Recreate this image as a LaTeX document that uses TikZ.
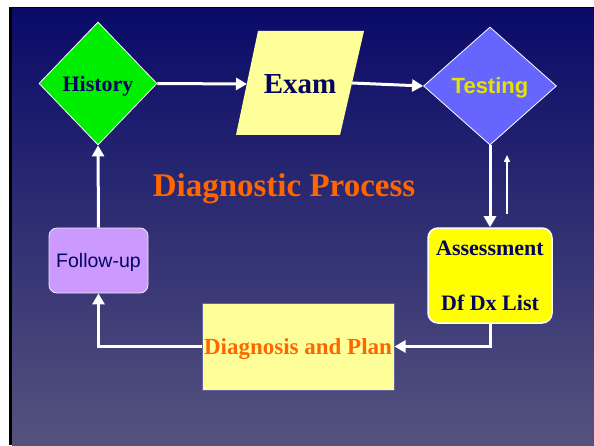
\documentclass[tikz,border=0pt]{standalone}
\usepackage{fontspec}
\setmainfont{Liberation Serif}
\setsansfont{Liberation Sans}
\usetikzlibrary{shapes.geometric,arrows.meta}
\definecolor{bgtop}{RGB}{10,10,105}
\definecolor{bgbot}{RGB}{85,83,125}
\definecolor{navytext}{RGB}{5,5,95}
\definecolor{histgreen}{RGB}{0,238,0}
\definecolor{paleyellow}{RGB}{255,255,153}
\definecolor{testblue}{RGB}{102,102,255}
\definecolor{testtext}{RGB}{228,228,0}
\definecolor{brightyellow}{RGB}{255,255,0}
\definecolor{lilac}{RGB}{204,153,255}
\definecolor{orangetext}{RGB}{255,102,0}
\definecolor{diagborder}{RGB}{100,100,160}
\tikzset{
  conn/.style={draw=white, line width=3pt, -{Triangle[length=11pt,width=12pt]}},
  thinconn/.style={draw=white, line width=1.5pt, -{Triangle[length=7pt,width=6pt]}},
  serifbold/.style={font=\fontsize{22}{26}\selectfont\bfseries, text=navytext},
  diam/.style={diamond, draw=white, line width=0.8pt, inner sep=0pt},
  flat/.style={text depth=0pt},
}
\begin{document}
\begin{tikzpicture}[x=1pt,y=1pt]
\useasboundingbox (0,0) rectangle (594,445);
% background and frame
\fill[white] (0,0) rectangle (594,445);
\fill[black] (9,0) rectangle (594,438);
\shade[top color=bgtop, bottom color=bgbot] (12,0) rectangle (594,436);

% History
\node[diam, flat, fill=histgreen, minimum width=118pt, minimum height=123pt, serifbold] (history) at (98,361.5) {History};

% Exam parallelogram
\fill[paleyellow] (236,310) -- (340,310) -- (364,414) -- (258,414) -- cycle;
\node[flat, font=\fontsize{29}{34}\selectfont\bfseries, text=navytext] (exam) at (300,361) {Exam};
\coordinate (examL) at (247,361);
\coordinate (examR) at (352,362);

% Testing
\node[diam, flat, fill=testblue, minimum width=133pt, minimum height=118pt, font=\sffamily\fontsize{22}{26}\selectfont\bfseries, text=testtext] (testing) at (490,359) {Testing};

% Title
\node[anchor=base, font=\fontsize{33}{38}\selectfont\bfseries, text=orangetext, inner sep=0pt] (title) at (284,248) {Diagnostic Process};

% Assessment
\node[draw=white, line width=1.5pt, fill=brightyellow, rounded corners=10pt, minimum width=124pt, minimum height=95pt, align=center, font=\fontsize{22}{55}\selectfont\bfseries, text=navytext] (assess) at (490,169.5) {Assessment\\Df Dx List};

% Diagnosis and Plan
\node[flat, draw=diagborder, line width=1pt, fill=paleyellow, minimum width=192pt, minimum height=87pt, inner sep=1pt, font=\fontsize{23}{27}\selectfont\bfseries, text=orangetext] (diag) at (298,98.5) {Diagnosis and Plan};

% Follow-up
\node[flat, draw=white!85!gray, line width=0.8pt, fill=lilac, rounded corners=8pt, minimum width=99pt, minimum height=65pt, font=\sffamily\fontsize{19.5}{23}\selectfont, text=navytext] (follow) at (98.5,184.5) {Follow-up};

% connectors
\draw[conn] (history.east) -- (examL);
\draw[conn] (examR) -- (testing.west);
\draw[conn] (testing.south) -- (assess.north);
\coordinate (upA) at (507,231);
\coordinate (upB) at (507,290);
\draw[thinconn] (upA) -- (upB);
\draw[conn] (assess.south) |- (diag.east);
\draw[conn] (diag.west) -| (follow.south);
\draw[conn] (follow.north) -- (history.south);
\end{tikzpicture}
\end{document}
